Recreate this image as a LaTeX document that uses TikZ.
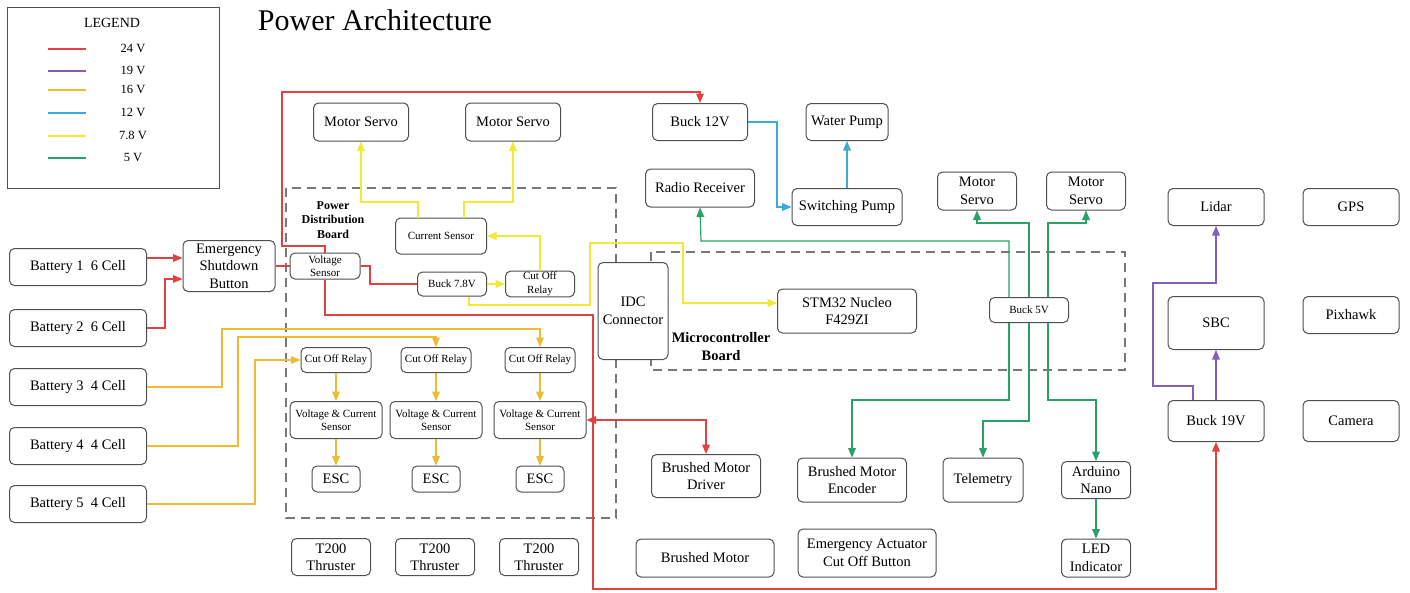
\documentclass[tikz,border=0pt]{standalone}
\usepackage{fontspec}
\setmainfont{Liberation Serif}
\usepackage{tikz}
\usetikzlibrary{arrows}

\definecolor{c24}{RGB}{224,66,66}
\definecolor{c19}{RGB}{130,95,185}
\definecolor{c16}{RGB}{236,188,50}
\definecolor{c12}{RGB}{60,172,214}
\definecolor{c78}{RGB}{240,234,50}
\definecolor{c5}{RGB}{40,162,105}
\definecolor{boxgray}{RGB}{80,80,80}
\definecolor{dashgray}{RGB}{120,120,120}

\begin{document}
\begin{tikzpicture}[
  x=1pt, y=-1pt,
  >=triangle 45,
  blk/.style={draw=boxgray, fill=white, rounded corners=5pt, line width=1pt,
    align=center, inner sep=1pt, font=\fontsize{14.5}{17.5}\selectfont},
  sblk/.style={blk, font=\fontsize{11}{13.5}\selectfont},
  board/.style={draw=dashgray, line width=1.5pt, dash pattern=on 9pt off 6pt},
  v24/.style={draw=c24, line width=1.2pt},
  v19/.style={draw=c19, line width=1.2pt},
  v16/.style={draw=c16, line width=1.2pt},
  v12/.style={draw=c12, line width=1.2pt},
  v78/.style={draw=c78, line width=1.2pt},
  v5/.style={draw=c5, line width=1.2pt},
]
\useasboundingbox (0,0) rectangle (1410,592);

% legend
\draw [boxgray, line width=1pt] (7,7) rectangle (219,188);
\node [font=\fontsize{14}{16}\selectfont] (legend) at (112,23) {LEGEND};
\foreach \y/\c/\t [count=\i] in {49/c24/24 V, 71/c19/19 V, 90/c16/16 V, 113/c12/12 V, 136/c78/7.8 V, 158/c5/5 V} {
  \draw [\c, line width=1.2pt] (48,\y) -- (86,\y);
  \node [font=\fontsize{12.5}{14}\selectfont] (leg\i) at (133,\y-1) {\t};
}

\node [font=\fontsize{30}{32}\selectfont] (title) at (375,20) {Power Architecture};

% boards
\draw [board] (286,188) rectangle (616,518);
\draw [board] (651,252) rectangle (1125,370);
\node [font=\bfseries\fontsize{12}{14.5}\selectfont, align=center] (pdblabel) at (333,220) {Power\\Distribution\\Board};
\node [font=\bfseries\fontsize{14.5}{18}\selectfont, align=center] (mcblabel) at (721,347) {Microcontroller\\Board};

% batteries
\foreach \n/\y/\c in {1/267/6, 2/328/6, 3/387/4, 4/446/4, 5/504/4}
  \node [blk, minimum width=137, minimum height=37] (bat\n) at (78,\y) {Battery \n\ \ \c\ Cell};
\node [blk, minimum width=92, minimum height=51] (esb) at (229,266) {Emergency\\Shutdown\\Button};

% power distribution board
\node [sblk, minimum width=70, minimum height=26] (vs) at (325,266) {Voltage\\Sensor};
\node [sblk, minimum width=91, minimum height=36] (cs) at (441,236) {Current Sensor};
\node [sblk, minimum width=69, minimum height=24] (b78) at (452,284) {Buck 7.8V};
\node [sblk, minimum width=69, minimum height=24] (cor) at (540,284) {Cut Off\\Relay};
\node [blk, minimum width=95, minimum height=38] (ms1) at (361,122) {Motor Servo};
\node [blk, minimum width=95, minimum height=38] (ms2) at (513,122) {Motor Servo};
\foreach \s/\x in {a/336, b/436, c/540} {
  \node [sblk, minimum width=70, minimum height=25] (cr\s) at (\x,360) {Cut Off Relay};
  \node [sblk, minimum width=92, minimum height=37] (vc\s) at (\x,420) {Voltage \& Current\\Sensor};
  \node [blk, minimum width=48, minimum height=26] (esc\s) at (\x,479) {ESC};
}
\foreach \s/\x in {a/331, b/435, c/539}
  \node [blk, minimum width=79, minimum height=37] (thr\s) at (\x,557) {T200\\Thruster};

% microcontroller board and loads
\node [blk, minimum width=70, minimum height=97] (idc) at (633,311) {IDC\\Connector};
\node [blk, minimum width=139, minimum height=44] (stm) at (847,311) {STM32 Nucleo\\F429ZI};
\node [sblk, minimum width=79, minimum height=25] (b5) at (1029,310) {Buck 5V};
\node [blk, minimum width=95, minimum height=37] (b12) at (700,122) {Buck 12V};
\node [blk, minimum width=82, minimum height=37] (wp) at (847,122) {Water Pump};
\node [blk, minimum width=109, minimum height=38] (rr) at (700,188) {Radio Receiver};
\node [blk, minimum width=110, minimum height=37] (sp) at (847,207) {Switching Pump};
\node [blk, minimum width=79, minimum height=38] (ms3) at (977,191) {Motor\\Servo};
\node [blk, minimum width=79, minimum height=38] (ms4) at (1086,191) {Motor\\Servo};
\node [blk, minimum width=80, minimum height=44] (tel) at (983,480) {Telemetry};
\node [blk, minimum width=69, minimum height=37] (ard) at (1096,480) {Arduino\\Nano};
\node [blk, minimum width=69, minimum height=38] (led) at (1096,558) {LED\\Indicator};
\node [blk, minimum width=109, minimum height=43] (bmd) at (706,476) {Brushed Motor\\Driver};
\node [blk, minimum width=109, minimum height=44] (bme) at (852,480) {Brushed Motor\\Encoder};
\node [blk, minimum width=138, minimum height=38] (bm) at (705,558) {Brushed Motor};
\node [blk, minimum width=138, minimum height=48] (eac) at (867,553) {Emergency Actuator\\Cut Off Button};

% computing stack
\node [blk, minimum width=96, minimum height=37] (lidar) at (1216,207) {Lidar};
\node [blk, minimum width=96, minimum height=37] (gps) at (1351,207) {GPS};
\node [blk, minimum width=96, minimum height=53] (sbc) at (1216,323) {SBC};
\node [blk, minimum width=96, minimum height=37] (pix) at (1351,315) {Pixhawk};
\node [blk, minimum width=96, minimum height=41] (b19) at (1216,421) {Buck 19V};
\node [blk, minimum width=96, minimum height=41] (cam) at (1351,421) {Camera};

% 24 V
\draw [v24,->] ([yshift=9]bat1.east) -- ([yshift=8]esb.west);
\draw [v24,->] (bat2.east) -| (165,279) -- ([yshift=-13]esb.west);
\draw [v24] (esb.east) -- (vs.west);
\draw [v24,->] (vs.north) |- (282,246) |- (700,92) -- (b12.north);
\draw [v24] (vs.east) -| (370,284) -- (b78.west);
\coordinate (jn) at (593,420);
\draw [v24,->] (vs.south) |- (593,315) -- (jn) -- (593,589) -| (b19.south);
\draw [v24,->] (jn) -- (vcc.east);
\draw [v24,->] (jn) -| (bmd.north);

% 16 V
\draw [v16,->] (bat3.east) -| (222,329) -| (crc.north);
\draw [v16,->] (bat4.east) -| (238,337) -| (crb.north);
\draw [v16,->] (bat5.east) -| (255,360) -- (cra.west);
\foreach \s in {a,b,c} {
  \draw [v16,->] (cr\s) -- (vc\s);
  \draw [v16,->] (vc\s) -- (esc\s);
}

% 7.8 V
\draw [v78,->] (b78) -- (cor);
\draw [v78,->] (cor.north) |- (cs.east);
\draw [v78,->] ([xshift=-23]cs.north) |- (361,202) -- (ms1.south);
\draw [v78,->] ([xshift=23]cs.north) |- (513,202) -- (ms2.south);
\draw [v78,->] ([xshift=17]b78.south) |- (590,305) |- (683,243) |- ([yshift=8]stm.west);

% 12 V
\draw [v12,->] (b12.east) -| (777,207) -- (sp.west);
\draw [v12,->] (sp) -- (wp);

% 5 V
\draw [v5,->] ([xshift=-20]b5.north) |- (701,241) -- (rr.south);
\draw [v5,->] (b5.north) |- (977,223) -- (ms3.south);
\draw [v5,->] ([xshift=19]b5.north) |- (1086,223) -- (ms4.south);
\draw [v5,->] ([xshift=-20]b5.south) |- (852,400) -- (bme.north);
\draw [v5,->] (b5.south) |- (983,421) -- (tel.north);
\draw [v5,->] ([xshift=19]b5.south) |- (1096,400) -- (ard.north);
\draw [v5,->] (ard) -- (led);

% 19 V
\draw [v19,->] (b19) -- (sbc);
\draw [v19,->] ([xshift=-23]b19.north) |- (1153,386) |- (1216,283) -- (lidar.south);

\end{tikzpicture}
\end{document}
